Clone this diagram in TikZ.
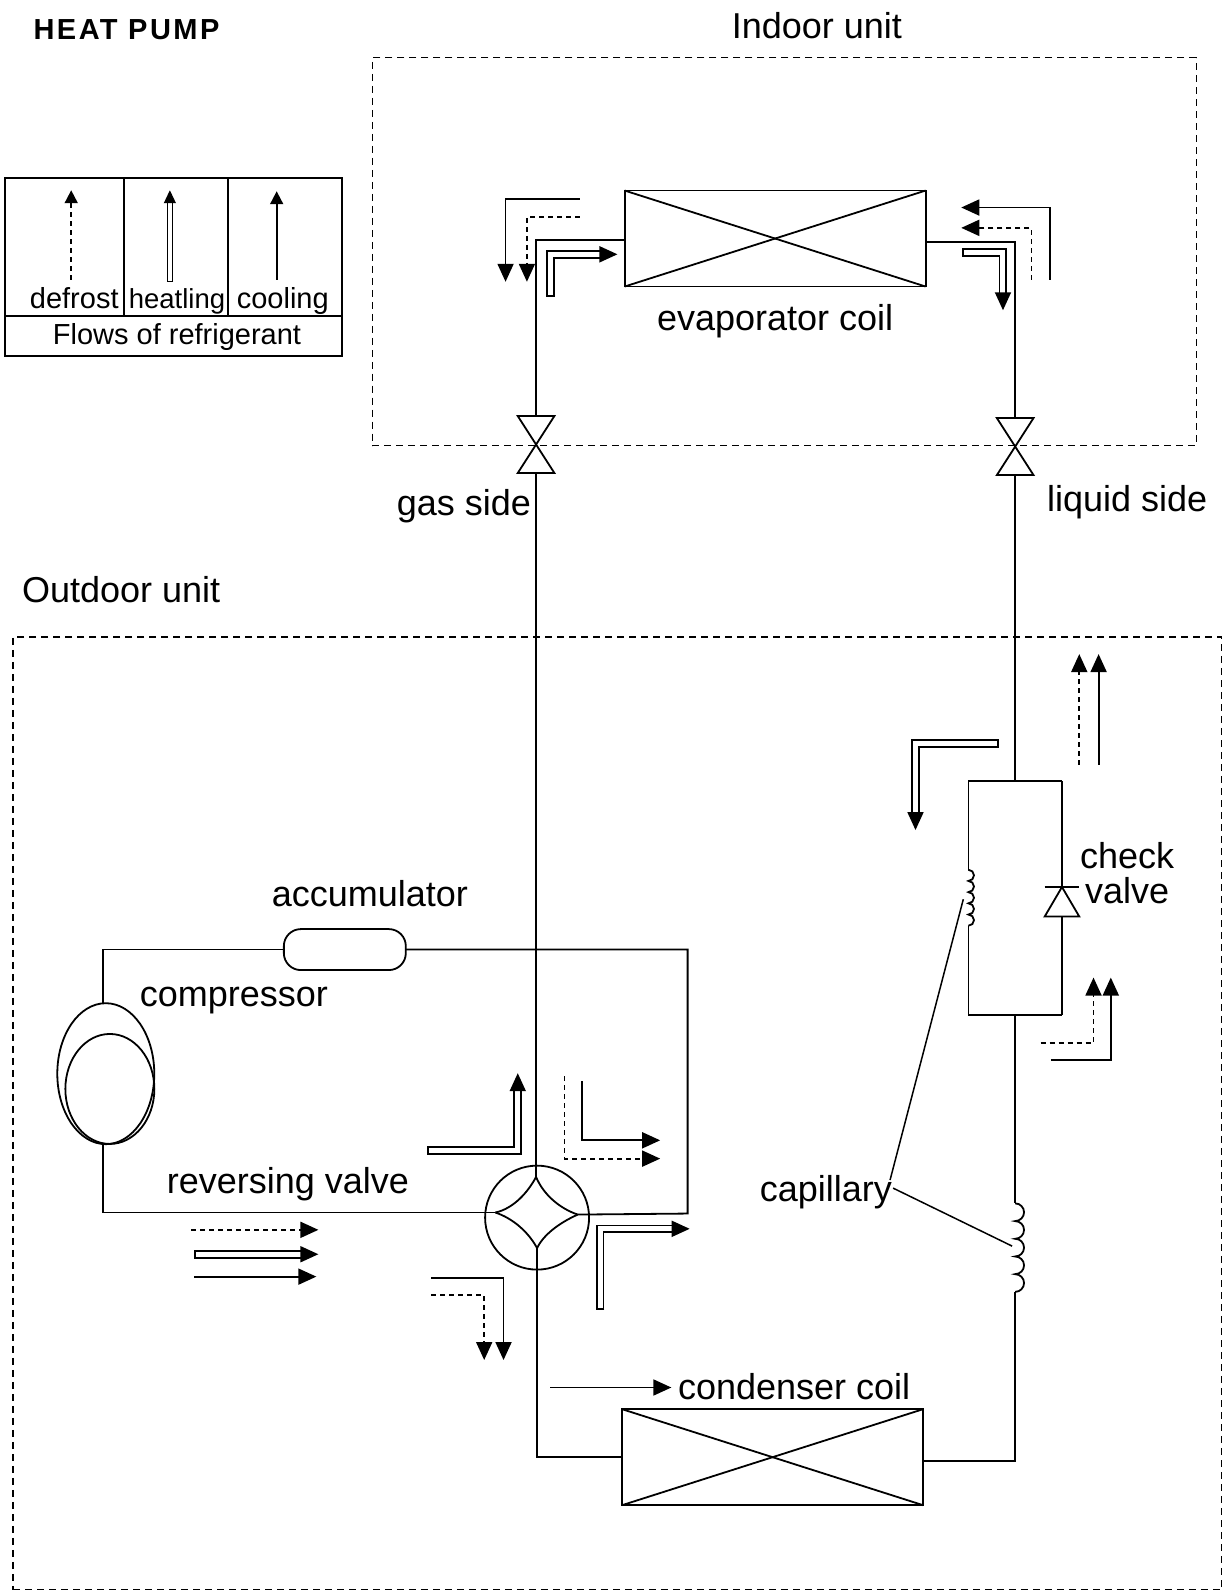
\documentclass[tikz,border=0pt]{standalone}
\usepackage{fontspec}
\setmainfont{Liberation Sans}
\usepackage{tikz}
\usetikzlibrary{
    positioning,
    arrows.meta,
    shapes.geometric
}

\begin{document}
\begin{tikzpicture}[
    x=1.0174pt, y=-1.0174pt,
    every node/.style={inner sep=0pt, outer sep=0pt},
    bigtext/.style={font=\fontsize{36}{36}\selectfont, align=center},
    smalltext/.style={font=\fontsize{29}{31}\selectfont, anchor=base},
    unitbox/.style={draw, dashed, dash pattern=on 7pt off 5pt, line width=1.2pt},
    coilbox/.style={draw, line width=1.8pt, minimum width=301pt, minimum height=96pt},
    wire/.style={line width=1.8pt},
    tiplarge/.style={-{Triangle[length=18pt, width=16pt]}},
    tipsmall/.style={-{Triangle[length=13pt, width=13pt]}},
    solidflow/.style={line width=1.8pt},
    dashflow/.style={line width=1.8pt, dash pattern=on 5pt off 4pt},
    doubleflow/.style={double, double distance=5pt, line width=1.8pt},
    doubletip/.style={{Bar[width=8.6pt, line width=1.8pt]}-{Triangle[length=18pt, width=16pt]}}
]
\useasboundingbox (0,0) rectangle (1205,1568);

% ================= TITLES =================
\node[anchor=base west, font=\fontsize{29}{30}\selectfont\bfseries\addfontfeatures{LetterSpace=8.5}] (title) at (33,39) {HEAT PUMP};
\node[bigtext, anchor=base] (indoorname) at (803,38) {Indoor unit};
\node[bigtext, anchor=base] (outdoorname) at (119,592) {Outdoor unit};

% ================= UNIT BOXES =================
\node[unitbox, minimum width=824pt, minimum height=388pt] (indoor) at (771,247.5) {};
\node[unitbox, minimum width=1209pt, minimum height=953pt] (outdoor) at (607,1094.5) {};

% ================= LEGEND =================
\node[draw, line width=1.8pt, minimum width=337pt, minimum height=178pt] (legend) at (170.5,262.5) {};
\draw[wire] (5,311) -- (336,311);
\draw[wire] (122,175) -- (122,311);
\draw[wire] (224,175) -- (224,311);

\node[smalltext] (defrost) at (73,303) {defrost};
\node[smalltext, font=\fontsize{27.5}{31}\selectfont] (heating) at (174,303) {heatling};
\node[smalltext] (cooling) at (278,303) {cooling};
\node[smalltext] (flows) at (174,339) {Flows of refrigerant};

\coordinate (legd1) at (70,275);  \coordinate (legd2) at (70,187);
\coordinate (legh1) at (167,277); \coordinate (legh2) at (167,187);
\coordinate (legc1) at (272,275); \coordinate (legc2) at (272,188);
\draw[dashflow, tipsmall] (legd1) -- (legd2);
\draw[doubleflow, double distance=4pt, line width=1.2pt, {Bar[width=6.4pt, line width=1.2pt]}-{Triangle[length=13pt, width=12pt]}] (legh1) -- (legh2);
\draw[solidflow, tipsmall] (legc1) -- (legc2);

% ================= COMPONENTS =================
\node[coilbox] (evap) at (762,234.5) {};
\draw[wire] (evap.north west) -- (evap.south east);
\draw[wire] (evap.south west) -- (evap.north east);
\node[bigtext, below=18pt of evap] (evapname) {evaporator coil};

\node[coilbox] (cond) at (759.5,1432.5) {};
\draw[wire] (cond.north west) -- (cond.south east);
\draw[wire] (cond.south west) -- (cond.north east);
\node[bigtext, above=9.5pt of cond, xshift=21.5pt] (condname) {condenser coil};

\node[draw, line width=1.8pt, rounded corners=17pt, minimum width=122pt, minimum height=41pt] (accum) at (339,933.5) {};
\node[bigtext, above=22pt of accum, xshift=25pt] (accumname) {accumulator};

\node[draw, ellipse, line width=1.8pt, minimum width=97pt, minimum height=141pt] (comp) at (104,1055.5) {};
\node[draw, ellipse, line width=1.8pt, minimum width=89pt, minimum height=110pt] (compin) at (108,1070.5) {};
\node[bigtext, anchor=base] (compname) at (230,989) {compressor};

\node[draw, circle, line width=1.8pt, minimum size=104pt] (rev) at (528,1197) {};
\coordinate (revt) at (527,1157);
\coordinate (revr) at (568,1194);
\coordinate (revb) at (528,1227);
\coordinate (revl) at (487,1192);
\draw[wire] (revt) .. controls (519,1172) and (505,1188) .. (revl);
\draw[wire] (revl) .. controls (505,1198) and (520,1212) .. (revb);
\draw[wire] (revb) .. controls (534,1214) and (550,1202) .. (revr);
\draw[wire] (revr) .. controls (550,1188) and (534,1174) .. (revt);
\node[bigtext, anchor=base] (revname) at (283,1173) {reversing valve};

% ================= SHUT-OFF VALVES =================
\coordinate (gasv) at (527,437);
\coordinate (liqv) at (998,439);
\coordinate (gasin) at (527,409);
\coordinate (liqin) at (998,411);
\coordinate (gasout) at (527,465);
\coordinate (liqout) at (998,467);
\draw[wire] (gasv) ++(-18,-28) -- ++(36,0) -- ++(-36,56) -- ++(36,0) -- cycle;
\draw[wire] (liqv) ++(-18,-28) -- ++(36,0) -- ++(-36,56) -- ++(36,0) -- cycle;
\node[bigtext, anchor=base] (gasname) at (456,507) {gas side};
\node[bigtext, anchor=base] (liqname) at (1108,503) {liquid side};

% ================= CHECK VALVE BRANCH =================
\coordinate (branchnw) at (952,768);
\coordinate (branchne) at (1044,768);
\coordinate (branchsw) at (952,998);
\coordinate (branchse) at (1044,998);
\coordinate (branchtop) at (998,768);
\coordinate (branchbot) at (998,998);
\coordinate (smallcoila) at (952,855);
\coordinate (smallcoilb) at (952,910);
\coordinate (checktop) at (1044,872);
\coordinate (checkbot) at (1044,901);
\coordinate (bigcoila) at (998,1183);
\coordinate (bigcoilb) at (998,1270);

\draw[wire] (checktop) ++(-17,0) -- ++(34,0);
\draw[wire] (checktop) -- ++(-17,29) -- ++(34,0) -- cycle;
\node[bigtext] (checkname) at (1108,858) {check\\[-1pt]valve};

\draw[wire] (smallcoila) foreach \i in {1,...,5} {arc[start angle=90, end angle=-90, radius=5.6pt]};
\draw[wire] (bigcoila) foreach \i in {1,...,5} {arc[start angle=90, end angle=-90, radius=8.85pt]};

% ================= PIPES =================
\coordinate (pipecorner) at (676,1193);
\coordinate (compa) at (101,986);
\coordinate (compb) at (101,1125);
\draw[wire] ([yshift=-1.5pt]evap.west) -| (gasin);
\draw[wire] ([yshift=-3.5pt]evap.east) -| (liqin);
\draw[wire] (gasout) -- (revt);
\draw[wire] (liqout) -- (branchtop);
\draw[wire] (branchnw) -- (branchne);
\draw[wire] (branchsw) -- (branchse);
\draw[wire] (branchnw) -- (smallcoila);
\draw[wire] (smallcoilb) -- (branchsw);
\draw[wire] (branchne) -- (checktop);
\draw[wire] (checkbot) -- (branchse);
\draw[wire] (branchbot) -- (bigcoila);
\draw[wire] (bigcoilb) |- ([yshift=-3.5pt]cond.east);
\draw[wire] (revb) |- (cond.west);
\draw[wire] (compa) |- (accum.west);
\draw[wire] (compb) |- (revl);
\draw[wire] (accum.east) -| (pipecorner) -- (revr);

% ================= CAPILLARY =================
\node[bigtext, anchor=base] (capname) at (812,1181) {capillary};
\coordinate (capa) at (947,884);
\coordinate (capb) at (995,1225);
\coordinate (capc) at (875,1160);
\coordinate (capd) at (878,1168);
\draw[wire, line width=1.5pt] (capa) -- (capc);
\draw[wire, line width=1.5pt] (capd) -- (capb);

% ================= FLOW ARROWS =================
% evaporator, gas side
\coordinate (ea1) at (570,196); \coordinate (ea2) at (497,277);
\coordinate (eb1) at (570,213); \coordinate (eb2) at (518,277);
\coordinate (ec1) at (541,292); \coordinate (ec2) at (607,250);
\draw[solidflow, tiplarge] (ea1) -| (ea2);
\draw[dashflow, tiplarge] (eb1) -| (eb2);
\draw[doubleflow, doubletip] (ec1) |- (ec2);

% evaporator, liquid side
\coordinate (ed1) at (1032,275); \coordinate (ed2) at (945,204);
\coordinate (ee1) at (1014,275); \coordinate (ee2) at (945,224);
\coordinate (ef1) at (946,248);  \coordinate (ef2) at (986,305);
\draw[solidflow, tiplarge] (ed1) |- (ed2);
\draw[dashflow, tiplarge] (ee1) |- (ee2);
\draw[doubleflow, doubletip] (ef1) -| (ef2);

% check valve branch
\coordinate (ca1) at (1061,752); \coordinate (ca2) at (1061,643);
\coordinate (cb1) at (1080,752); \coordinate (cb2) at (1080,643);
\coordinate (cc1) at (982,731);  \coordinate (cc2) at (900,816);
\coordinate (cd1) at (1023,1025); \coordinate (cd2) at (1075,961);
\coordinate (ce1) at (1033,1042); \coordinate (ce2) at (1092,961);
\draw[dashflow, tiplarge] (ca1) -- (ca2);
\draw[solidflow, tiplarge] (cb1) -- (cb2);
\draw[doubleflow, doubletip] (cc1) -| (cc2);
\draw[dashflow, tiplarge] (cd1) -| (cd2);
\draw[solidflow, tiplarge] (ce1) -| (ce2);

% reversing valve
\coordinate (ra1) at (420,1131); \coordinate (ra2) at (509,1055);
\coordinate (rb1) at (555,1058); \coordinate (rb2) at (649,1139);
\coordinate (rc1) at (572,1063); \coordinate (rc2) at (649,1121);
\coordinate (rd1) at (590,1288); \coordinate (rd2) at (678,1208);
\coordinate (re1) at (424,1256); \coordinate (re2) at (495,1337);
\coordinate (rf1) at (424,1273); \coordinate (rf2) at (476,1337);
\draw[doubleflow, doubletip] (ra1) -| (ra2);
\draw[dashflow, tiplarge] (rb1) |- (rb2);
\draw[solidflow, tiplarge] (rc1) |- (rc2);
\draw[doubleflow, doubletip] (rd1) |- (rd2);
\draw[solidflow, tiplarge] (re1) -| (re2);
\draw[dashflow, tiplarge] (rf1) -| (rf2);

% compressor outlet
\coordinate (la1) at (188,1209); \coordinate (la2) at (313,1209);
\coordinate (lb1) at (191,1233); \coordinate (lb2) at (313,1233);
\coordinate (lc1) at (191,1255); \coordinate (lc2) at (311,1255);
\draw[dashflow, tiplarge] (la1) -- (la2);
\draw[doubleflow, doubletip] (lb1) -- (lb2);
\draw[solidflow, tiplarge] (lc1) -- (lc2);

% condenser
\coordinate (ka1) at (541,1364); \coordinate (ka2) at (660,1364);
\draw[solidflow, tiplarge] (ka1) -- (ka2);

\end{tikzpicture}
\end{document}
